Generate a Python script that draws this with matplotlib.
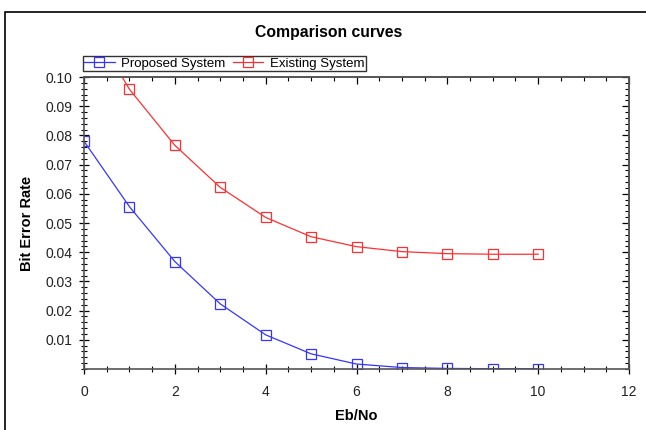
import matplotlib
matplotlib.use("Agg")
import matplotlib.pyplot as plt
from matplotlib.patches import Rectangle
from matplotlib.ticker import MultipleLocator

plt.rcParams['font.family'] = ['Liberation Sans', 'DejaVu Sans']

# data
ebno = [0, 1, 2, 3, 4, 5, 6, 7, 8, 9, 10]
ber_proposed = [0.078, 0.0556, 0.0368, 0.0223, 0.0117, 0.0052, 0.0017, 0.0005, 0.0002, 0.0001, 0.0001]
ber_existing = [0.122, 0.0958, 0.0766, 0.0622, 0.0519, 0.0453, 0.0419, 0.0402, 0.0395, 0.0393, 0.0393]

fig = plt.figure(figsize=(6.46, 4.30), dpi=100)

# outer frame
fig.patches.append(Rectangle((5 / 646, -0.1), 1.2, (418 / 430) + 0.1,
                             transform=fig.transFigure, fill=False,
                             edgecolor='black', linewidth=1.2))

ax = fig.add_axes([84 / 646, 61 / 430, 545 / 646, 292 / 430])
ax.plot(ebno, ber_proposed, color='#3535ff', lw=0.9, marker='s', ms=7,
        mfc='none', mec='#3535ff', mew=0.9, label='Proposed System')
ax.plot(ebno, ber_existing, color='#ff3030', lw=0.9, marker='s', ms=7,
        mfc='none', mec='#ff3030', mew=0.9, label='Existing System')

ax.set_xlim(0, 12)
ax.set_ylim(0, 0.10)
ax.xaxis.set_major_locator(MultipleLocator(2))
ax.xaxis.set_minor_locator(MultipleLocator(0.5))
ax.yaxis.set_minor_locator(MultipleLocator(0.002))
ax.set_yticks([0.01 * i for i in range(1, 11)])
ax.set_yticklabels(['%.2f' % (0.01 * i) for i in range(1, 11)])
ax.tick_params(which='major', direction='inout', length=7, width=0.9,
               labelsize=10, labelcolor='#222222')
ax.tick_params(axis='y', which='major', pad=5)
ax.tick_params(axis='x', which='major', pad=8)
ax.tick_params(which='minor', direction='inout', length=4, width=0.8)
for s in ax.spines.values():
    s.set_color('#555555')
    s.set_linewidth(1.2)

# inward ticks on top and right
top = ax.secondary_xaxis('top')
top.xaxis.set_major_locator(MultipleLocator(2))
top.xaxis.set_minor_locator(MultipleLocator(0.5))
top.tick_params(which='major', direction='in', length=5, width=0.9, labeltop=False)
top.tick_params(which='minor', direction='in', length=3, width=0.8)
right = ax.secondary_yaxis('right')
right.set_yticks([0.01 * i for i in range(1, 11)])
right.yaxis.set_minor_locator(MultipleLocator(0.002))
right.tick_params(which='major', direction='in', length=5, width=0.9, labelright=False)
right.tick_params(which='minor', direction='in', length=3, width=0.8)
for sa in (top, right):
    for s in sa.spines.values():
        s.set_color('#555555')
        s.set_linewidth(1.2)

ax.set_xlabel('Eb/No', fontsize=10.5, fontweight='bold', labelpad=7)
ax.set_ylabel('Bit Error Rate', fontsize=10.5, fontweight='bold', labelpad=8)

fig.text(329 / 646, 1 - 33 / 430, 'Comparison curves', ha='center', va='center',
         fontsize=11.3, fontweight='bold')

leg = fig.legend(loc='center left', bbox_to_anchor=(83 / 646, 1 - 63.5 / 430),
                 ncol=2, frameon=True, fancybox=False, fontsize=9.5,
                 borderpad=0.1, handlelength=2.3, handletextpad=0.5,
                 columnspacing=0.55, borderaxespad=0)
leg.get_frame().set_edgecolor('black')
leg.get_frame().set_linewidth(1.0)

fig.savefig('out.png', dpi=100)
